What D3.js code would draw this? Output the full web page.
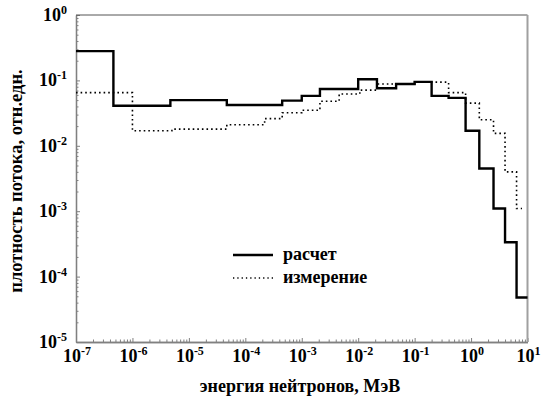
<!DOCTYPE html>
<html>
<head>
<meta charset="utf-8">
<script src="https://cdn.jsdelivr.net/npm/d3@7"></script>
<style>
body { margin: 0; background: #fff; }
</style>
</head>
<body>
<div id="chart"></div>
<script>
// energy group edges (MeV) and flux density values
var calcEdges = [1e-7, 4.6e-7, 4.7e-6, 4.7e-5, 4.5e-4, 1e-3, 2.1e-3, 1e-2, 2.15e-2, 4.7e-2, 0.1, 0.2, 0.4, 0.8, 1.4, 2.5, 4.0, 6.4, 10];
var calcValues = [0.28, 0.041, 0.050, 0.042, 0.049, 0.058, 0.074, 0.104, 0.076, 0.088, 0.095, 0.058, 0.054, 0.017, 0.0045, 0.0011, 3.35e-4, 4.8e-5];

var measEdges = [1e-7, 1e-6, 5e-6, 4.7e-5, 2.2e-4, 4.5e-4, 1e-3, 2.1e-3, 4.6e-3, 1.07e-2, 2.15e-2, 0.1, 0.4, 0.8, 1.4, 2.5, 4.0, 6.4, 8];
var measValues = [0.065, 0.017, 0.018, 0.021, 0.026, 0.032, 0.035, 0.048, 0.062, 0.071, 0.088, 0.094, 0.065, 0.045, 0.025, 0.0155, 0.004, 0.0011];

var xTicks = [1e-7, 1e-6, 1e-5, 1e-4, 1e-3, 1e-2, 1e-1, 1e0, 1e1];
var yTicks = [1e0, 1e-1, 1e-2, 1e-3, 1e-4, 1e-5];
var legendNames = ['расчет', 'измерение'];

var W = 543, H = 403;
var mLeft = 76, mRight = 527.5, mTop = 15, mBottom = 342;
var FONT = "'Liberation Serif'";

var svg = d3.select('#chart').append('svg')
    .attr('width', W)
    .attr('height', H);

var x = d3.scaleLog().domain([1e-7, 10]).range([mLeft, mRight]);
var y = d3.scaleLog().domain([1e-5, 1]).range([mBottom, mTop]);

// minor tick values
function minors(lo, hi) {
    var out = [];
    for (var e = lo; e < hi; e++) {
        for (var k = 2; k <= 9; k++) out.push(k * Math.pow(10, e));
    }
    return out;
}

// axes with ticks pointing inside
var gx = svg.append('g').attr('transform', 'translate(0,' + mBottom + ')');
gx.call(d3.axisBottom(x).tickValues(minors(-7, 1)).tickSize(-2.5).tickFormat('').tickSizeOuter(0));
gx.append('g').call(d3.axisBottom(x).tickValues(xTicks).tickSize(-4).tickFormat('').tickSizeOuter(0));

var gy = svg.append('g').attr('transform', 'translate(' + mLeft + ',0)');
gy.call(d3.axisLeft(y).tickValues(minors(-5, 0)).tickSize(-2.5).tickFormat('').tickSizeOuter(0));
gy.append('g').call(d3.axisLeft(y).tickValues(yTicks).tickSize(-4).tickFormat('').tickSizeOuter(0));

svg.selectAll('.domain').attr('stroke', '#808080').attr('stroke-width', 1.3);
svg.selectAll('.tick line').attr('stroke', '#808080').attr('stroke-width', 1);

// frame top and right
svg.append('line').attr('x1', mLeft).attr('x2', mRight).attr('y1', mTop).attr('y2', mTop)
    .attr('stroke', '#555').attr('stroke-width', 1);
svg.append('line').attr('x1', mRight).attr('x2', mRight).attr('y1', mTop).attr('y2', mBottom)
    .attr('stroke', '#a0a0a0').attr('stroke-width', 2);

function txt(sel, size) {
    return sel.style('font-family', FONT).style('font-weight', 'bold')
        .style('font-size', size + 'px').attr('fill', '#000');
}

// tick labels
function exp10(v) { return Math.round(Math.log10(v)); }

var xl = txt(svg.selectAll('.xl').data(xTicks).enter().append('text'), 18)
    .attr('x', function(d) { return x(d) + 1; })
    .attr('y', 362)
    .attr('text-anchor', 'middle');
xl.append('tspan').text('10');
xl.append('tspan').attr('dy', -7).style('font-size', '12px').text(function(d) { return exp10(d); });

var yl = txt(svg.selectAll('.yl').data(yTicks).enter().append('text'), 18)
    .attr('x', 67)
    .attr('y', function(d) { return y(d) + 6; })
    .attr('text-anchor', 'end');
yl.append('tspan').text('10');
yl.append('tspan').attr('dy', -7).style('font-size', '12px').text(function(d) { return exp10(d); });

// axis titles
txt(svg.append('text'), 18)
    .attr('x', 300).attr('y', 392)
    .attr('text-anchor', 'middle')
    .text('энергия нейтронов, МэВ');

txt(svg.append('text'), 18.5)
    .attr('transform', 'translate(22,181) rotate(-90)')
    .attr('text-anchor', 'middle')
    .text('плотность потока, отн.едн.');

// step lines
function stepPoints(edges, values) {
    var pts = values.map(function(v, i) { return [edges[i], v]; });
    pts.push([edges[edges.length - 1], values[values.length - 1]]);
    return pts;
}

var line = d3.line()
    .x(function(d) { return x(d[0]); })
    .y(function(d) { return y(d[1]); })
    .curve(d3.curveStepAfter);

svg.append('path')
    .attr('d', line(stepPoints(measEdges, measValues)))
    .attr('fill', 'none')
    .attr('stroke', '#000')
    .attr('stroke-width', 1.6)
    .attr('stroke-dasharray', '1.6,3');

svg.append('path')
    .attr('d', line(stepPoints(calcEdges, calcValues)))
    .attr('fill', 'none')
    .attr('stroke', '#000')
    .attr('stroke-width', 2.4);

// legend
var lg = svg.append('g');
lg.append('line').attr('x1', 233).attr('x2', 273).attr('y1', 255).attr('y2', 255)
    .attr('stroke', '#000').attr('stroke-width', 2.4);
lg.append('line').attr('x1', 233).attr('x2', 273).attr('y1', 278).attr('y2', 278)
    .attr('stroke', '#000').attr('stroke-width', 1.3).attr('stroke-dasharray', '1.3,3');
txt(lg.selectAll('text').data(legendNames).enter().append('text'), 18)
    .attr('x', 283)
    .attr('y', function(d, i) { return 260 + i * 23; })
    .text(function(d) { return d; });
</script>
</body>
</html>
